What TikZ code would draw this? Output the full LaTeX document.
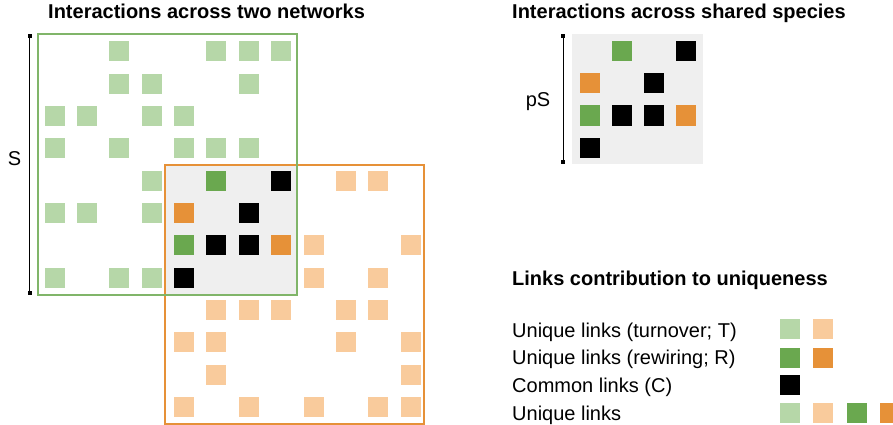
\documentclass[tikz,border=0pt]{standalone}
\usepackage{fontspec}
\setmainfont{Liberation Sans}
\begin{document}
\begin{tikzpicture}[x=1pt,y=-1pt,
  cell/.style={draw=none,inner sep=0pt,minimum size=20pt,anchor=north west},
  lgc/.style={cell,fill=lgreen},
  dgc/.style={cell,fill=dgreen},
  loc/.style={cell,fill=lorange},
  doc/.style={cell,fill=dorange},
  bkc/.style={cell,fill=black},
  ttl/.style={font=\fontsize{20}{24}\selectfont\bfseries,anchor=base west,inner sep=0pt},
  lab/.style={font=\fontsize{20}{24}\selectfont,anchor=base west,inner sep=0pt},
  barline/.style={line width=1.3pt,draw=black},
  endcap/.style={fill=black,inner sep=0pt,minimum size=4pt},
  overlap/.style={fill=ovgray,draw=none}]
\definecolor{lgreen}{HTML}{B6D7A8}
\definecolor{dgreen}{HTML}{6AA84F}
\definecolor{lorange}{HTML}{F9CB9C}
\definecolor{dorange}{HTML}{E69138}
\definecolor{ovgray}{HTML}{EFEFEF}
\useasboundingbox (0,0) rectangle (893,425);

% titles
\node[ttl] (t1) at (48,19) {Interactions across two networks};
\node[ttl] (t2) at (512,19) {Interactions across shared species};
\node[ttl] (t3) at (512,285) {Links contribution to uniqueness};

% overlap shading
\path[overlap] (165,165) rectangle (297,294.5);

% left matrix cells
\foreach \r/\c in {0/2,0/5,0/6,0/7,1/2,1/3,1/6,2/0,2/1,2/3,2/4,3/0,3/2,3/4,3/5,3/6,4/3,5/0,5/1,5/3,7/0,7/2,7/3}
  \node[lgc] (a\r-\c) at ({44.5+32.35*\c},{41+32.35*\r}) {};
\foreach \r/\c in {4/5,6/4}
  \node[dgc] (a\r-\c) at ({44.5+32.35*\c},{41+32.35*\r}) {};
\foreach \r/\c in {5/4,6/7}
  \node[doc] (a\r-\c) at ({44.5+32.35*\c},{41+32.35*\r}) {};
\foreach \r/\c in {4/7,5/6,6/5,6/6,7/4}
  \node[bkc] (a\r-\c) at ({44.5+32.35*\c},{41+32.35*\r}) {};
\foreach \r/\c in {4/9,4/10,6/8,6/11,7/8,7/10,8/5,8/6,8/7,8/9,8/10,9/4,9/5,9/9,9/11,10/5,10/11,11/4,11/6,11/8,11/10,11/11}
  \node[loc] (a\r-\c) at ({44.5+32.35*\c},{41+32.35*\r}) {};

% network frames
\draw[dorange,line width=2pt] (165,165) rectangle (424,424);
\draw[dgreen!85!white,line width=2pt] (38,34) rectangle (297,294.5);

% S bar
\node[endcap] (s1) at (29.5,36) {};
\node[endcap] (s2) at (29.5,292.5) {};
\draw[barline] (s1.center) -- (s2.center);
\node[lab,anchor=center] (S) at (14.5,159) {S};

% right matrix
\path[overlap] (572,34.3) rectangle (703.3,164.3);
\foreach \r/\c in {0/1,2/0}
  \node[dgc] (b\r-\c) at ({579.3+32.3*\c},{40.7+32.3*\r}) {};
\foreach \r/\c in {1/0,2/3}
  \node[doc] (b\r-\c) at ({579.3+32.3*\c},{40.7+32.3*\r}) {};
\foreach \r/\c in {0/3,1/2,2/1,2/2,3/0}
  \node[bkc] (b\r-\c) at ({579.3+32.3*\c},{40.7+32.3*\r}) {};
\node[endcap] (p1) at (563.3,36) {};
\node[endcap] (p2) at (563.3,162) {};
\draw[barline] (p1.center) -- (p2.center);
\node[lab,anchor=center] (pS) at (538,102) {pS};

% legend
\node[lab] (l1) at (512,337) {Unique links (turnover; T)};
\node[lab] (l2) at (512,364.7) {Unique links (rewiring; R)};
\node[lab] (l3) at (512,392.3) {Common links (C)};
\node[lab] (l4) at (512,420) {Unique links};
\node[lgc] (k1a) at (779.3,319) {};
\node[loc] (k1b) at (812.7,319) {};
\node[dgc] (k2a) at (779.3,347.3) {};
\node[doc] (k2b) at (812.7,347.3) {};
\node[bkc] (k3a) at (779.3,375) {};
\node[lgc] (k4a) at (779.3,402.7) {};
\node[loc] (k4b) at (812.7,402.7) {};
\node[dgc] (k4c) at (846.7,402.7) {};
\node[doc] (k4d) at (880,402.7) {};
\end{tikzpicture}
\end{document}
